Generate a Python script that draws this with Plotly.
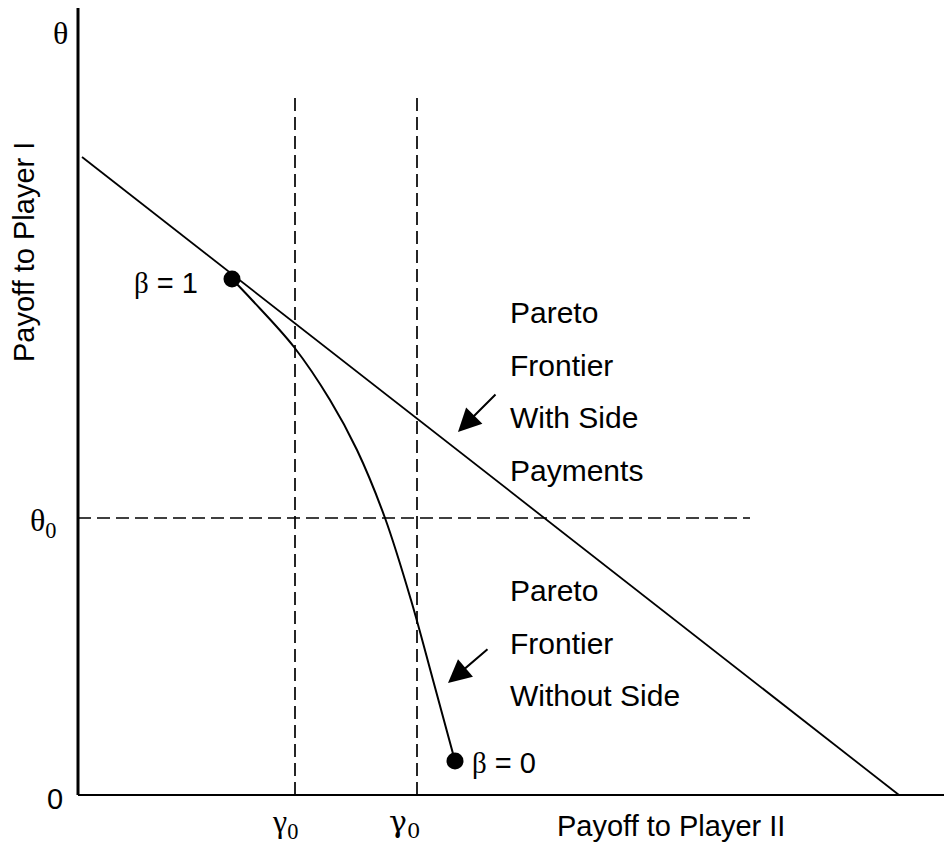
import plotly.graph_objects as go

# Coordinates in chart units (origin at the axes corner, y up)
frontier_side_x = [4, 821]
frontier_side_y = [638, 0]

frontier_noside_x = [154, 174, 216, 252, 279, 307, 333, 355, 377]
frontier_noside_y = [516, 495, 448, 395, 345, 277, 195, 115, 34]

gamma0_x = 217
gamma0p_x = 339
theta0_y = 277
dash_top = 700
theta0_right = 672

beta_pts_x = [154, 377]
beta_pts_y = [516, 34]

# page layout: body has an 8px margin
PAGE_W, PAGE_H = 952, 854
OFF = 8
X0, Y0 = 78, 795  # page pixel location of the origin
W, H = PAGE_W - 2 * OFF, PAGE_H - 2 * OFF

fig = go.Figure()
line = dict(color="black", width=1.8)
dash = dict(color="black", width=1.7, dash="13px,6px")

# axes
fig.add_trace(go.Scatter(x=[0, 0], y=[0, Y0], mode="lines", line=dict(color="black", width=3)))
fig.add_trace(go.Scatter(x=[0, PAGE_W - X0], y=[0, 0], mode="lines", line=dict(color="black", width=2.2)))

# dashed guides
fig.add_trace(go.Scatter(x=[gamma0_x, gamma0_x], y=[0, dash_top], mode="lines", line=dash))
fig.add_trace(go.Scatter(x=[gamma0p_x, gamma0p_x], y=[0, dash_top - 2], mode="lines", line=dash))
fig.add_trace(go.Scatter(x=[0, theta0_right], y=[theta0_y, theta0_y], mode="lines", line=dash))

# frontiers
fig.add_trace(go.Scatter(x=frontier_side_x, y=frontier_side_y, mode="lines", line=line))
fig.add_trace(go.Scatter(x=frontier_noside_x, y=frontier_noside_y, mode="lines",
                         line=dict(color="black", width=2, shape="spline", smoothing=1.0)))
fig.add_trace(go.Scatter(x=beta_pts_x, y=beta_pts_y, mode="markers",
                         marker=dict(color="black", size=17)))

sans = "Liberation Sans, Arial, sans-serif"
serif = "Liberation Serif, Times New Roman, serif"

def txt(x, y, text, size=30, font=sans, xanchor="left"):
    fig.add_annotation(x=x, y=y, text=text, showarrow=False, xanchor=xanchor, yanchor="middle",
                       font=dict(family=font, size=size, color="black"))

# axis labels
txt(-18, 762, "θ", size=32, font=serif, xanchor="center")
txt(-35, 273, "θ<sub>0</sub>", size=32, font=serif, xanchor="center")
txt(-23, -4, "0", size=29, xanchor="center")
txt(207, -28, "γ<sub>0</sub>", size=32, font=serif, xanchor="center")
txt(326, -28, "γ<sub>0</sub>", size=30, font="DejaVu Serif, serif", xanchor="center")
txt(593, -31, "Payoff to Player II", size=29, xanchor="center")
fig.add_annotation(x=-54, y=543, text="Payoff to Player I", showarrow=False, textangle=-90,
                   font=dict(family=sans, size=29, color="black"))

# point labels
txt(122, 512, "<span style='font-family:Liberation Serif'>β</span> = 1", size=29, xanchor="right")
txt(392, 32, "<span style='font-family:Liberation Serif'>β</span> = 0", size=29)

# region texts
for yy, t in zip([483, 430, 378, 325], ["Pareto", "Frontier", "With Side", "Payments"]):
    txt(430, yy, t)
for yy, t in zip([205, 152, 100], ["Pareto", "Frontier", "Without Side"]):
    txt(430, yy, t)

# arrows
for (tx, ty), (hx, hy) in [((419, 402), (380, 363)), ((411, 147), (370, 112))]:
    fig.add_annotation(x=hx, y=hy, ax=tx, ay=ty, xref="x", yref="y", axref="x", ayref="y",
                       text="", showarrow=True, arrowhead=2, arrowsize=2.3, arrowwidth=2,
                       arrowcolor="black")

fig.update_layout(width=W, height=H, margin=dict(l=0, r=0, t=0, b=0),
                  plot_bgcolor="white", paper_bgcolor="white", showlegend=False)
fig.update_xaxes(range=[-(X0 - OFF), W - (X0 - OFF)], visible=False)
fig.update_yaxes(range=[-(H - (Y0 - OFF)), Y0 - OFF], visible=False)

fig.write_html("out.html")
